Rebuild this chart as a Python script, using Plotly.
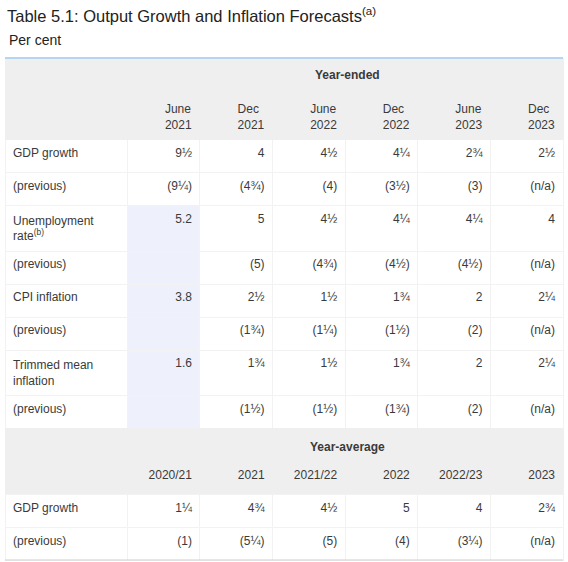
import plotly.graph_objects as go

# row labels and column headings
row_labels = [
    "GDP growth", "(previous)",
    "Unemployment<br>rate<sup>(b)</sup>", "(previous)",
    "CPI inflation", "(previous)",
    "Trimmed mean<br>inflation", "(previous)",
    "", "",
    "GDP growth", "(previous)",
]
periods_ended = ["June<br>2021", "Dec<br>2021", "June<br>2022", "Dec<br>2022", "June<br>2023", "Dec<br>2023"]
periods_avg = ["2020/21", "2021", "2021/22", "2022", "2022/23", "2023"]

# year-ended forecasts
gdp_ended = ["9½", "4", "4½", "4¼", "2¾", "2½"]
gdp_ended_prev = ["(9¼)", "(4¾)", "(4)", "(3½)", "(3)", "(n/a)"]
unemp = ["5.2", "5", "4½", "4¼", "4¼", "4"]
unemp_prev = ["", "(5)", "(4¾)", "(4½)", "(4½)", "(n/a)"]
cpi = ["3.8", "2½", "1½", "1¾", "2", "2¼"]
cpi_prev = ["", "(1¾)", "(1¼)", "(1½)", "(2)", "(n/a)"]
trimmed = ["1.6", "1¾", "1½", "1¾", "2", "2¼"]
trimmed_prev = ["", "(1½)", "(1½)", "(1¾)", "(2)", "(n/a)"]

# year-average forecasts
gdp_avg = ["1¼", "4¾", "4½", "5", "4", "2¾"]
gdp_avg_prev = ["(1)", "(5¼)", "(5)", "(4)", "(3¼)", "(n/a)"]

FONT = "Liberation Sans, Arial"
GREY = "#efefef"
BLUE = "#eef0fc"
WHITE = "#ffffff"
SEP = "#f2f2f2"
TEXT = "#3a3a3a"

rows = [gdp_ended, gdp_ended_prev, unemp, unemp_prev, cpi, cpi_prev,
        trimmed, trimmed_prev, [""] * 6, periods_avg, gdp_avg, gdp_avg_prev]
n_rows = len(rows)
grey_rows = {8, 9}

columns = [row_labels]
for j in range(6):
    columns.append([r[j] for r in rows])

# per-cell fills: grey section band, blue shading on the first column
fills = []
lines = []
for j in range(7):
    f, l = [], []
    for i in range(n_rows):
        if i in grey_rows:
            f.append(GREY)
            l.append(GREY)
        elif j == 1 and 2 <= i <= 7:
            f.append(BLUE)
            l.append(SEP)
        else:
            f.append(WHITE)
            l.append(SEP)
    fills.append(f)
    lines.append(l)

header_vals = [["", ""]] + [["", p] for p in periods_ended]

fig = go.Figure(
    go.Table(
        domain=dict(x=[5 / 568, 563 / 568], y=[0, 1 - 58 / 562]),
        columnwidth=[123, 73, 73, 73, 73, 73, 73],
        header=dict(
            values=header_vals,
            fill_color=GREY,
            line=dict(color=GREY, width=1),
            align=["left"] + ["right"] * 6,
            font=dict(family=FONT, size=12, color=TEXT),
            height=36,
        ),
        cells=dict(
            values=columns,
            fill_color=fills,
            line=dict(color=lines, width=1),
            align=["left"] + ["right"] * 6,
            font=dict(family=FONT, size=12, color=TEXT),
            height=33,
        ),
    )
)

fig.add_annotation(text="<b>Year-ended</b>", x=347 / 568, y=1 - 75 / 562,
                   xref="paper", yref="paper", showarrow=False, yanchor="middle",
                   font=dict(family=FONT, size=12, color=TEXT))
fig.add_annotation(text="<b>Year-average</b>", x=347 / 568, y=1 - 447 / 562,
                   xref="paper", yref="paper", showarrow=False, yanchor="middle",
                   font=dict(family=FONT, size=12, color=TEXT))
fig.add_annotation(text="Per cent", x=7 / 568, y=1 - 40 / 562, xanchor="left",
                   yanchor="middle", xref="paper", yref="paper", showarrow=False,
                   font=dict(family=FONT, size=14, color="#222222"))

# top and bottom rules
fig.add_shape(type="line", xref="paper", yref="paper", x0=5 / 568, x1=563 / 568,
              y0=1 - 58 / 562, y1=1 - 58 / 562, line=dict(color="#b5d5f3", width=2))
fig.add_shape(type="line", xref="paper", yref="paper", x0=5 / 568, x1=563 / 568,
              y0=1 - 560 / 562, y1=1 - 560 / 562, line=dict(color="#cfcfcf", width=1))

fig.update_layout(
    width=568,
    height=562,
    margin=dict(l=0, r=0, t=0, b=0),
    paper_bgcolor="white",
    title=dict(
        text="Table 5.1: Output Growth and Inflation Forecasts<sup>(a)</sup>",
        x=7 / 568, xanchor="left", y=1 - 16 / 562, yanchor="middle",
        font=dict(family=FONT, size=16.5, color="#222222"),
    ),
)

fig.write_html("out.html", config={"displayModeBar": False},
               post_script="document.body.style.margin='0';")
